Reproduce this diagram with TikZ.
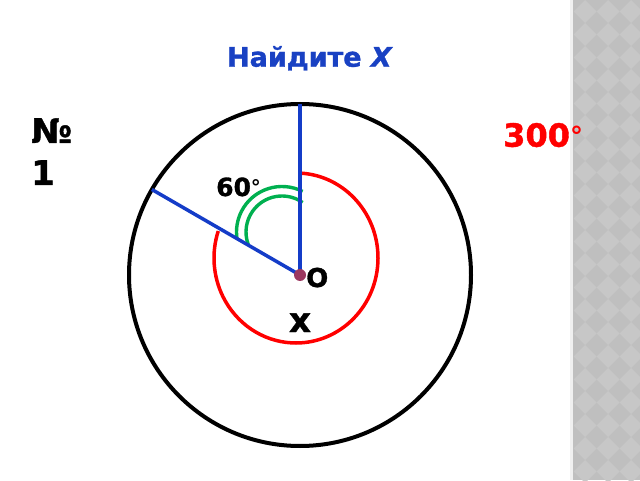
\documentclass[tikz,border=0pt]{standalone}
\usepackage{fontspec}
\usetikzlibrary{calc}
\setmainfont{DejaVu Sans}[BoldFont={DejaVu Sans Bold},BoldItalicFont={DejaVu Sans Bold Oblique},BoldFeatures={FakeBold=1.2},BoldItalicFeatures={FakeBold=1.2}]
\newfontfamily\degfont{DejaVu Sans}
\definecolor{titleblue}{RGB}{25,65,195}
\definecolor{lineblue}{RGB}{20,60,200}
\definecolor{arcred}{RGB}{255,0,0}
\definecolor{arcgreen}{RGB}{0,176,80}
\definecolor{dotcol}{RGB}{155,55,95}
\definecolor{stripbase}{RGB}{191,191,191}
\definecolor{stripdia}{RGB}{199,199,199}
\begin{document}
\begin{tikzpicture}[x=1pt,y=1pt,
  txt/.style={inner sep=0pt,font=\bfseries},
  ray/.style={lineblue,line width=3.5pt},
  greenarc/.style={arcgreen,line width=3.4pt},
]
\useasboundingbox (0,0) rectangle (640,480);
\fill[white] (0,0) rectangle (640,480);
% right strip
\fill[stripbase] (571,0) rectangle (640,480);
\begin{scope}
\clip (573,0) rectangle (640,480);
\foreach \i in {0,...,4}{
  \foreach \j in {0,...,22}{
    \fill[stripdia] ({585+23*\i},{480-23*\j}) -- ++(11.5,-11.5) -- ++(-11.5,-11.5) -- ++(-11.5,11.5) -- cycle;
  }
}
\end{scope}
\fill[gray!12] (570,0) rectangle (573,480);
% geometry
\coordinate (O) at (300,205);
\draw[black,line width=4pt] (O) circle[radius=171];
\coordinate (T) at (300,376);
\coordinate (S) at ($(O)+(150:171)$);
\draw[arcred,line width=3.5pt] ($(296,222)+(87:82 and 85)$) arc[start angle=87,end angle=-198.5,x radius=82,y radius=85];
\coordinate (G) at (282,248);
\draw[greenarc] ($(G)+(63:45.5)$) arc[start angle=63,end angle=188,radius=45.5];
\draw[greenarc] ($(G)+(55:36)$) arc[start angle=55,end angle=200,radius=36];
\draw[ray] (O) -- (T);
\draw[ray] (O) -- (S);
\fill[dotcol] (O) circle[radius=6];
% texts
\node[txt,titleblue,font=\fontsize{27}{30}\selectfont\bfseries,anchor=base] (title) at (310,413.3) {Найдите \textit{X}};
\node[txt,font=\fontsize{34}{36}\selectfont\bfseries,anchor=base west] (num) at (31,337) {№};
\node[txt,font=\fontsize{34}{36}\selectfont\bfseries,anchor=base west] (one) at (31,295) {1};
\node[txt,arcred,font=\fontsize{32}{34}\selectfont\bfseries,anchor=base west] (ang) at (503,333.3) {300{\degfont\fontsize{26}{28}\selectfont\raisebox{1pt}{°}}};
\node[txt,font=\fontsize{25}{27}\selectfont\bfseries,anchor=base west] (sixty) at (216,284) {60{\degfont\fontsize{20}{22}\selectfont\raisebox{1pt}{°}}};
\node[txt,font=\fontsize{26}{28}\selectfont\bfseries,anchor=base west] (olab) at (306,193) {O};
\node[txt,font=\fontsize{34}{36}\selectfont\bfseries,anchor=base] (xlab) at (300,148) {x};
\end{tikzpicture}
\end{document}
